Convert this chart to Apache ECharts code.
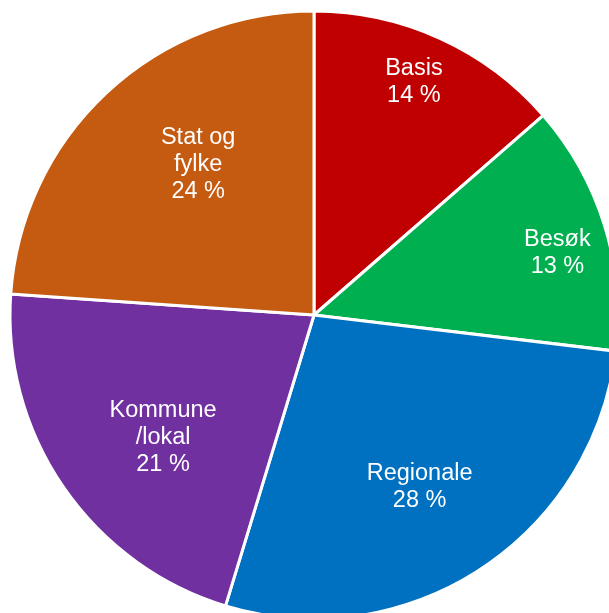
<!DOCTYPE html>
<html>
<head>
<meta charset="utf-8">
<script src="https://cdn.jsdelivr.net/npm/echarts@6/dist/echarts.min.js"></script>
<style>html,body{margin:0;padding:0;background:#fff;}#c{width:609px;height:613px;}</style>
</head>
<body>
<div id="c"></div>
<script>
const categories = ['Basis', 'Besøk', 'Regionale', 'Kommune\n/lokal', 'Stat og\nfylke'];
const values = [13.6, 13.3, 27.8, 21.4, 23.9];
const colors = ['#C00000', '#00B050', '#0070C0', '#7030A0', '#C55A11'];
// label placement (polar, relative to pie centre): angle clockwise from top, distance in px
const labelAngle = [23.2, 75.7, 148.45, 231.0, 322.35];
const labelDist = [253.6, 251.2, 201.8, 194.2, 189.6];
const CX = 314, CY = 315, R = 304;

const chart = echarts.init(document.getElementById('c'), null, {renderer: 'canvas'});
chart.setOption({
  animation: false,
  series: [{
    type: 'pie',
    center: [CX, CY],
    radius: [0, R],
    startAngle: 90,
    clockwise: true,
    avoidLabelOverlap: false,
    itemStyle: {borderColor: '#fff', borderWidth: 3},
    label: {
      show: true,
      position: 'inside',
      color: '#fff',
      fontFamily: 'Liberation Sans, Arial, sans-serif',
      fontSize: 23.5,
      lineHeight: 27,
      align: 'center',
      formatter: p => p.name + '\n' + Math.round(p.value) + ' %'
    },
    labelLine: {show: false},
    emphasis: {disabled: true},
    labelLayout: function (p) {
      const a = labelAngle[p.dataIndex] * Math.PI / 180;
      const d = labelDist[p.dataIndex];
      return {
        x: CX + d * Math.sin(a),
        y: CY - d * Math.cos(a),
        align: 'center',
        verticalAlign: 'middle'
      };
    },
    data: categories.map((c, i) => ({name: c, value: values[i], itemStyle: {color: colors[i]}}))
  }]
});
</script>
</body>
</html>
